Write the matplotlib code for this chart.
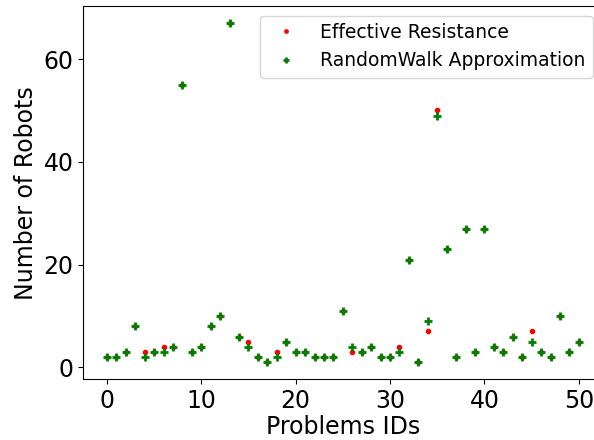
import matplotlib
matplotlib.use("Agg")
import matplotlib.pyplot as plt
import numpy as np

problem_ids = list(range(51))
effective_resistance = [2, 2, 3, 8, 3, 3, 4, 4, 55, 3,
                        4, 8, 10, 67, 6, 5, 2, 1, 3, 5,
                        3, 3, 2, 2, 2, 11, 3, 3, 4, 2,
                        2, 4, 21, 1, 7, 50, 23, 2, 27, 3,
                        27, 4, 3, 6, 2, 7, 3, 2, 10, 3,
                        5]
random_walk = [2, 2, 3, 8, 2, 3, 3, 4, 55, 3,
               4, 8, 10, 67, 6, 4, 2, 1, 2, 5,
               3, 3, 2, 2, 2, 11, 4, 3, 4, 2,
               2, 3, 21, 1, 9, 49, 23, 2, 27, 3,
               27, 4, 3, 6, 2, 5, 3, 2, 10, 3,
               5]
y_ticks = [0, 20, 40, 60]

fig = plt.figure(figsize=(5.94, 4.40), dpi=100)
ax = fig.add_axes([0.1402, 0.138, 0.874, 0.848])
ax.plot(problem_ids, effective_resistance, 'r.', markersize=6, label='Effective Resistance')
ax.plot(problem_ids, random_walk, 'g+', markersize=5.5, markeredgewidth=2, label='RandomWalk Approximation')
ax.set_yticks(y_ticks)
ax.set_xlabel('Problems IDs', fontsize=17, labelpad=1.5)
ax.set_ylabel('Number of Robots', fontsize=17)
ax.tick_params(labelsize=17)
ax.legend(fontsize=13.5, loc='upper right', markerscale=0.8)
fig.savefig('out.png', dpi=100)
